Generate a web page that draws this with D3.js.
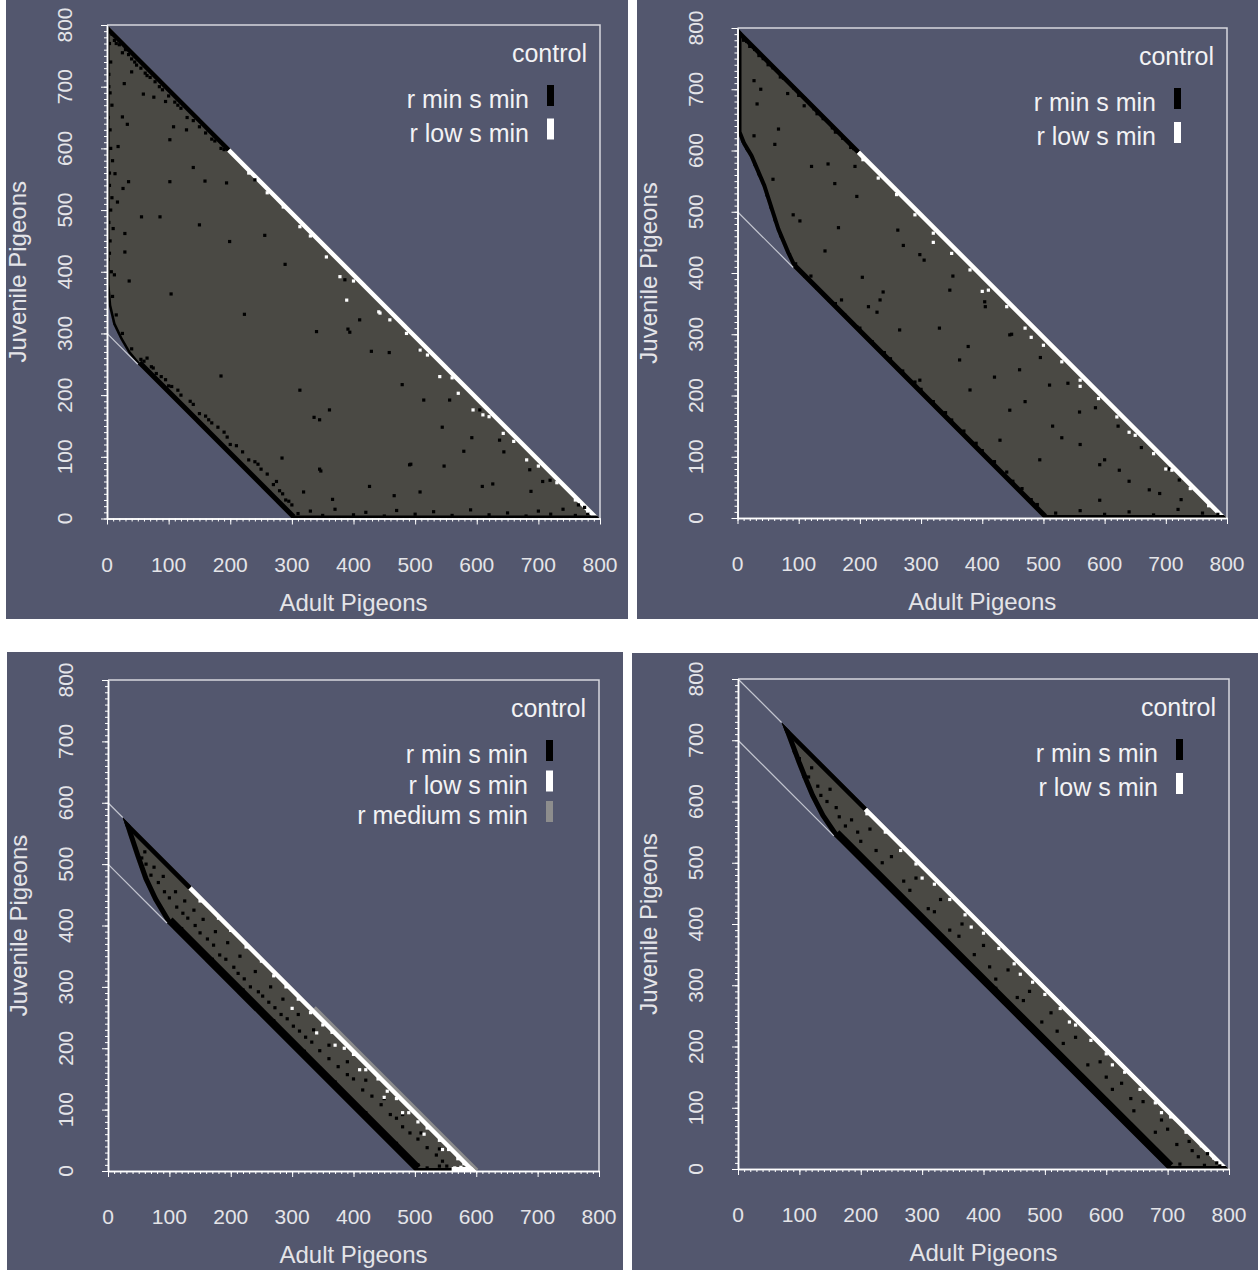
<!DOCTYPE html>
<html><head><meta charset="utf-8">
<script src="https://cdn.jsdelivr.net/npm/d3@7"></script>
<style>
body{margin:0;background:#fff}
svg{display:block}
text{font-family:"Liberation Sans",Arial,Helvetica,sans-serif}
</style>
</head><body>
<svg id="chart" width="1258" height="1270"></svg>
<script>
// ---------------- DATA ----------------
const majorTicks = [0,100,200,300,400,500,600,700,800];
const minorTicks = d3.range(0, 801, 10);
const xTitle = "Adult Pigeons";
const yTitle = "Juvenile Pigeons";
const panelTitles = ["control","control","control","control"];
const legendLabelsTwo = ["r min s min","r low s min"];
const legendLabelsThree = ["r min s min","r low s min","r medium s min"];

// panel 1
const p1Region = [[0,800],[0,380],[3,345],[10,315],[22,290],[35,268],[50,250],[300,0],[800,0]];
const p1Guides = [[[0,300],[50,250]]];
const p1UpperBlack = [[0,800],[200,600]];
const p1UpperWhite = [[200,600],[800,0]];
const p1LowerBlack = [[50,250],[300,0]];
const p1SideBlack = [[0,800],[0,380],[3,345],[10,315],[22,290],[35,268],[50,250]];
const p1BaseBlack = [[300,0],[800,0]];
const p1BaseWhite = [];
const p1Medium = [];
const p1BlackDots = [[40,724],[59,688],[76,683],[95,676],[28,705],[25,651],[33,639],[108,635],[102,614],[129,630],[140,569],[159,547],[102,546],[194,544],[35,546],[56,489],[86,489],[150,476],[199,449],[256,459],[29,462],[29,432],[289,412],[36,385],[104,364],[223,331],[18,603],[13,559],[17,513],[26,535],
 [185,231],[345,80],[491,87],[284,98],[345,160],[394,302],[410,322],[118,140],[135,66],[313,208],[556,192],[605,176],[637,127],[686,79],[702,160],[507,273],[240,549],[386,387],[491,378],[361,176],
 [340,303],[391,307],[429,271],[458,269],[336,164],[347,77],[479,217],[514,192],[544,148],[493,88],[547,85],[579,109],[592,131],[626,56],[609,52],[644,108],[688,44],[466,37],[426,52],[508,43],[319,43],[366,31],[707,60],[719,62],
 [3,720],[5,690],[2,650],[6,600],[4,560],[8,520],[3,480],[5,450],[2,420],[7,400],
 [310,8],[330,12],[350,5],[370,15],[400,6],[420,10],[450,4],[470,13],[500,7],[530,11],[560,5],[590,14],[620,6],[650,9],[680,4],[700,12],[720,7],[740,15],[760,5],[780,8],[775,18],[765,22],
 [15,770],[25,755],[40,745],[55,730],[70,715],[90,695],[110,675],[130,650],[150,635],[170,615],[30,760],[120,665],[185,600],
 [60,255],[80,235],[100,215],[120,200],[150,170],[170,155],[200,120],[230,95],[250,80],[270,55],[290,30],[65,260],[140,185],[210,118],[280,45],
 [55,258],[72,246],[88,230],[105,214],[115,208],[135,190],[160,166],[180,148],[190,140],[220,108],[240,92],[260,72],[275,60],[295,28],[300,22],[285,40],[245,88],[195,132],[165,160],[95,225],[75,244],
 [8,785],[12,775],[20,768],[35,752],[45,740],[62,722],[78,708],[85,700],[100,685],[115,670],[140,645],[160,625],[175,612],[190,598],[48,735],[65,718],
 [4,770],[6,740],[3,700],[8,670],[5,630],[9,580],[4,540],[6,500],[10,470],[4,430],[12,395],[9,360],[15,330],[25,300],[40,275]];
const p1WhiteDots = [[441,335],[459,322],[486,300],[540,230],[570,203],[594,176],[643,138],[681,95],[508,273],[610,168],[356,424],[378,392],[389,354],[443,333],[286,505],[313,473],
 [230,560],[260,528],[330,458],[400,385],[520,265],[560,228],[620,165],[660,125],[700,85],[730,58],[760,30],[780,12]];

// panel 2
const p2Region = [[0,800],[0,630],[8,610],[20,590],[41,541],[64,470],[80,432],[91,409],[500,0],[800,0]];
const p2Guides = [[[0,500],[91,409]]];
const p2UpperBlack = [[0,800],[200,600]];
const p2UpperWhite = [[200,600],[800,0]];
const p2LowerBlack = [[91,409],[500,0]];
const p2SideBlack = [[0,800],[0,630],[8,610],[20,590],[41,541],[64,470],[80,432],[91,409]];
const p2BaseBlack = [[500,0],[800,0]];
const p2BaseWhite = [];
const p2Medium = [];
const p2BlackDots = [[27,714],[38,700],[32,676],[67,635],[61,610],[27,624],[121,574],[148,578],[159,546],[192,574],[195,525],[143,436],[165,474],[102,485],[91,495],[204,393],[271,445],[305,421],[238,369],[228,336],[214,345],[170,356],[58,553],[109,673],[82,693],
 [347,372],[404,353],[445,299],[510,217],[530,131],[592,87],[624,78],[673,46],[559,173],[445,176],[429,127],[494,95],[298,225],[265,307],[233,356],[363,258],[592,29],[722,62],[461,242],[380,209],
 [262,470],[298,430],[330,310],[352,395],[377,280],[405,345],[420,230],[448,300],[470,190],[495,262],[515,150],[540,220],[560,120],[585,180],[600,95],[622,150],[640,60],[660,115],[690,40],[705,80],[725,30],
 [520,8],[560,12],[600,6],[640,10],[680,5],[720,14],[760,8],[785,6],
 [120,395],[160,350],[200,310],[250,260],[300,210],[350,160],[400,110],[450,60],[480,30],
 [10,780],[20,770],[35,755],[50,740],[70,720],[100,690],[130,660],[160,630],[185,605],
 [5,615],[12,600],[25,575],[32,560],[45,525],[52,505],[60,485],[70,460],[85,430],[95,415],
 [110,395],[130,375],[150,355],[175,332],[195,312],[220,288],[240,270],[270,240],[290,222],[320,190],[340,172],[370,142],[390,122],[420,92],[440,75],[465,48],[490,22],
 [5,790],[15,778],[28,765],[42,750],[58,735],[75,718],[92,702],[110,685],[125,668],[140,652],[155,637],[172,620],[190,603]];
const p2WhiteDots = [[205,585],[230,555],[260,528],[290,495],[320,465],[350,432],[380,405],[410,372],[440,345],[470,310],[500,282],[530,255],[560,225],[590,195],[620,165],[650,135],[680,105],[710,78],[740,48],[770,20],[320,450],[400,370],[480,295],[560,215],[640,140],[700,80]];

// panel 3
const p3Region = [[24,576],[33,548],[45,512],[58,475],[74,441],[96,404],[500,0],[600,0]];
const p3Guides = [[[0,600],[24,576]],[[0,500],[96,404]]];
const p3UpperBlack = [[24,576],[136,464]];
const p3UpperWhite = [[136,464],[600,0]];
const p3LowerBlack = [[96,404],[500,0]];
const p3SideBlack = [[24,576],[33,548],[45,512],[58,475],[74,441],[96,404]];
const p3BaseBlack = [[500,0],[560,0]];
const p3BaseWhite = [[560,0],[600,0]];
const p3Medium = [[335,265],[600,0]];
const p3BlackDots = [[40,540],[45,525],[55,510],[62,500],[70,482],[82,470],[92,455],[100,445],[112,430],[122,420],[130,412],[142,400],[150,388],[162,378],[172,368],[182,352],[192,345],[205,332],[212,322],[222,313],[232,300],[245,292],[252,285],[262,275],[272,266],[282,255],[292,248],[302,236],[312,228],[322,218],[332,210],[345,196],[360,183],[375,170],[390,157],[400,150],[415,132],[430,122],[445,108],[460,92],[470,86],[480,72],[492,62],[505,52],[520,38],[535,26],[545,16],[552,8],
 [60,520],[75,495],[90,480],[110,455],[125,440],[140,425],[155,410],[175,390],[195,372],[215,350],[240,325],[265,300],[285,280],[310,255],[335,230],[360,205],[390,178],[420,148],[450,118],[480,92],[510,62],[540,36],
 [120,395],[170,345],[220,295],[270,245],[320,195],[370,145],[420,95],[470,45],[505,10],[520,5],[540,8]];
const p3WhiteDots = [[150,440],[180,412],[200,392],[225,365],[250,342],[270,318],[290,300],[310,280],[330,258],[350,238],[365,226],[385,200],[400,190],[420,165],[440,150],[455,130],[470,118],[490,95],[505,80],[520,70],[540,50],[555,35],[570,20],[580,12],[590,5],
 [300,265],[340,225],[370,205],[410,165],[450,120],[480,95],[515,60],[545,35],[565,5],[575,6],[585,3]];

// panel 4
const p4Region = [[71,729],[80,705],[96,662],[108,632],[118,608],[135,575],[156,544],[700,0],[800,0]];
const p4Guides = [[[0,800],[71,729]],[[0,700],[156,544]]];
const p4UpperBlack = [[71,729],[210,590]];
const p4UpperWhite = [[210,590],[800,0]];
const p4LowerBlack = [[156,544],[700,0]];
const p4SideBlack = [[71,729],[80,705],[96,662],[108,632],[118,608],[135,575],[156,544]];
const p4BaseBlack = [[700,0],[800,0]];
const p4BaseWhite = [];
const p4Medium = [];
const p4BlackDots = [[90,680],[105,640],[120,655],[135,610],[150,620],[165,575],[185,570],[200,535],[215,555],[235,500],[250,510],[270,470],[290,475],[310,425],[330,440],[345,390],[365,400],[385,350],[400,365],[420,310],[440,325],[455,280],[475,290],[495,240],[510,255],[530,205],[550,215],[570,170],[590,175],[610,130],[625,140],[645,95],[660,110],[680,60],[700,65],[715,40],[735,45],[750,20],[765,25],[780,10],
 [180,530],[260,450],[340,370],[420,295],[500,210],[580,130],[660,50],[700,12],[720,8],[760,6],[785,5],
 [100,670],[115,640],[130,625],[145,600],[160,590],[175,560],[195,550],[225,520],[280,455],[320,420],[360,380],[410,330],[465,275],[520,225],[600,150],[640,115],[690,80],[740,30]];
const p4WhiteDots = [[210,580],[240,550],[265,520],[290,498],[320,465],[345,440],[370,415],[400,385],[425,360],[450,335],[480,305],[500,285],[525,262],[550,235],[575,210],[600,188],[630,158],[655,130],[680,108],[705,85],[730,60],[755,38],[775,18],[300,475],[380,395],[460,318],[540,240],[610,170],[690,92]];

// ---------------- LAYOUT / STYLE ----------------
const BG = "#53576e", FILL = "#4a4944", TXT = "#e4e4e8", LTXT = "#f2f2f4";
const legendSwatch = ["#000000","#ffffff","#8d8d8d"];
const panels = [
  {box:[6,0,628,619], plot:[107,25,600,518.5], region:p1Region, guides:p1Guides, ub:p1UpperBlack, uw:p1UpperWhite, lb:p1LowerBlack, sb:p1SideBlack, bb:p1BaseBlack, bw:p1BaseWhite, med:p1Medium, bd:p1BlackDots, wd:p1WhiteDots, legend:legendLabelsTwo, title:panelTitles[0], step:33.5, lbw:5, sbw:2.5},
  {box:[637,0,1258,619], plot:[737.5,28,1227,518], region:p2Region, guides:p2Guides, ub:p2UpperBlack, uw:p2UpperWhite, lb:p2LowerBlack, sb:p2SideBlack, bb:p2BaseBlack, bw:p2BaseWhite, med:p2Medium, bd:p2BlackDots, wd:p2WhiteDots, legend:legendLabelsTwo, title:panelTitles[1], step:34, lbw:5, sbw:4},
  {box:[7,652,623,1270], plot:[108,680,599,1171], region:p3Region, guides:p3Guides, ub:p3UpperBlack, uw:p3UpperWhite, lb:p3LowerBlack, sb:p3SideBlack, bb:p3BaseBlack, bw:p3BaseWhite, med:p3Medium, bd:p3BlackDots, wd:p3WhiteDots, legend:legendLabelsThree, title:panelTitles[2], step:30.5, lbw:8, sbw:5},
  {box:[632,653,1258,1270], plot:[738,679,1229,1169], region:p4Region, guides:p4Guides, ub:p4UpperBlack, uw:p4UpperWhite, lb:p4LowerBlack, sb:p4SideBlack, bb:p4BaseBlack, bw:p4BaseWhite, med:p4Medium, bd:p4BlackDots, wd:p4WhiteDots, legend:legendLabelsTwo, title:panelTitles[3], step:34, lbw:8, sbw:5}
];

const svg = d3.select("#chart");
panels.forEach((p, i) => {
  const [bx0,by0,bx1,by1] = p.box;
  const [px0,py0,px1,py1] = p.plot;
  const x = d3.scaleLinear().domain([0,800]).range([px0,px1]);
  const y = d3.scaleLinear().domain([0,800]).range([py1,py0]);
  const line = d3.line().x(d=>x(d[0])).y(d=>y(d[1]));
  const g = svg.append("g");
  g.append("rect").attr("x",bx0).attr("y",by0).attr("width",bx1-bx0).attr("height",by1-by0).attr("fill",BG);

  const cid = "clip"+i;
  g.append("clipPath").attr("id",cid).append("path").attr("d", line(p.region)+"Z");

  if (p.med.length) g.append("path").attr("d",line(p.med)).attr("fill","none").attr("stroke","#8d8d8d").attr("stroke-width",6);

  g.append("path").attr("d", line(p.region)+"Z").attr("fill",FILL);

  const cg = g.append("g").attr("clip-path",`url(#${cid})`);
  const band = (pts, col, w) => { if (pts.length) cg.append("path").attr("d",line(pts)).attr("fill","none").attr("stroke",col).attr("stroke-width",w*2).attr("stroke-linejoin","round"); };
  band(p.uw, "#ffffff", 4.5);
  band(p.ub, "#000000", 4.5);
  band(p.lb, "#000000", p.lbw);
  band(p.sb, "#000000", p.sbw);
  band(p.bb, "#000000", 3);
  band(p.bw, "#ffffff", 4);

  const dot = 3.2;
  cg.selectAll(".bd").data(p.bd).join("rect").attr("x",d=>x(d[0])-dot/2).attr("y",d=>y(d[1])-dot/2).attr("width",dot).attr("height",dot).attr("fill","#000");
  cg.selectAll(".wd").data(p.wd).join("rect").attr("x",d=>x(d[0])-dot/2).attr("y",d=>y(d[1])-dot/2).attr("width",dot).attr("height",dot).attr("fill","#fff");

  p.guides.forEach(s => g.append("path").attr("d",line(s)).attr("stroke","#c4c6d0").attr("stroke-width",1.2).attr("fill","none"));

  g.append("path").attr("d",`M${px0},${py0}H${px1}V${py1}`).attr("fill","none").attr("stroke","#d8d8de").attr("stroke-width",1.5);

  const styleAxis = sel => { sel.selectAll("path").attr("stroke","#ffffff").attr("stroke-width",1.5); sel.selectAll("line").attr("stroke","#ffffff"); sel.selectAll("text").remove(); };
  g.append("g").attr("transform",`translate(0,${py1})`).call(d3.axisBottom(x).tickValues(minorTicks).tickSize(3).tickSizeOuter(0)).call(styleAxis);
  g.append("g").attr("transform",`translate(0,${py1})`).call(d3.axisBottom(x).tickValues(majorTicks).tickSize(6).tickSizeOuter(0)).call(styleAxis);
  g.append("g").attr("transform",`translate(${px0},0)`).call(d3.axisLeft(y).tickValues(minorTicks).tickSize(3).tickSizeOuter(0)).call(styleAxis);
  g.append("g").attr("transform",`translate(${px0},0)`).call(d3.axisLeft(y).tickValues(majorTicks).tickSize(6).tickSizeOuter(0)).call(styleAxis);

  g.selectAll(".xl").data(majorTicks).join("text").attr("x",d=>x(d)).attr("y",py1+53).attr("text-anchor","middle").attr("font-size",21).attr("fill",TXT).text(d=>d);
  g.selectAll(".yl").data(majorTicks).join("text").attr("transform",d=>`translate(${px0-35},${y(d)}) rotate(-90)`).attr("text-anchor","middle").attr("font-size",21).attr("fill",TXT).text(d=>d);

  g.append("text").attr("x",(px0+px1)/2).attr("y",py1+92).attr("text-anchor","middle").attr("font-size",24).attr("fill",TXT).text(xTitle);
  g.append("text").attr("transform",`translate(${px0-81},${(py0+py1)/2}) rotate(-90)`).attr("text-anchor","middle").attr("font-size",24).attr("fill",TXT).text(yTitle);

  g.append("text").attr("x",px1-13).attr("y",py0+37).attr("text-anchor","end").attr("font-size",25).attr("fill",LTXT).text(p.title);
  p.legend.forEach((lab, k) => {
    const by = py0 + 83 + k*p.step;
    g.append("text").attr("x",px1-71).attr("y",by).attr("text-anchor","end").attr("font-size",25).attr("fill",LTXT).text(lab);
    g.append("rect").attr("x",px1-53).attr("y",by-23).attr("width",7).attr("height",21).attr("fill",legendSwatch[k]);
  });
});
</script>
</body></html>
